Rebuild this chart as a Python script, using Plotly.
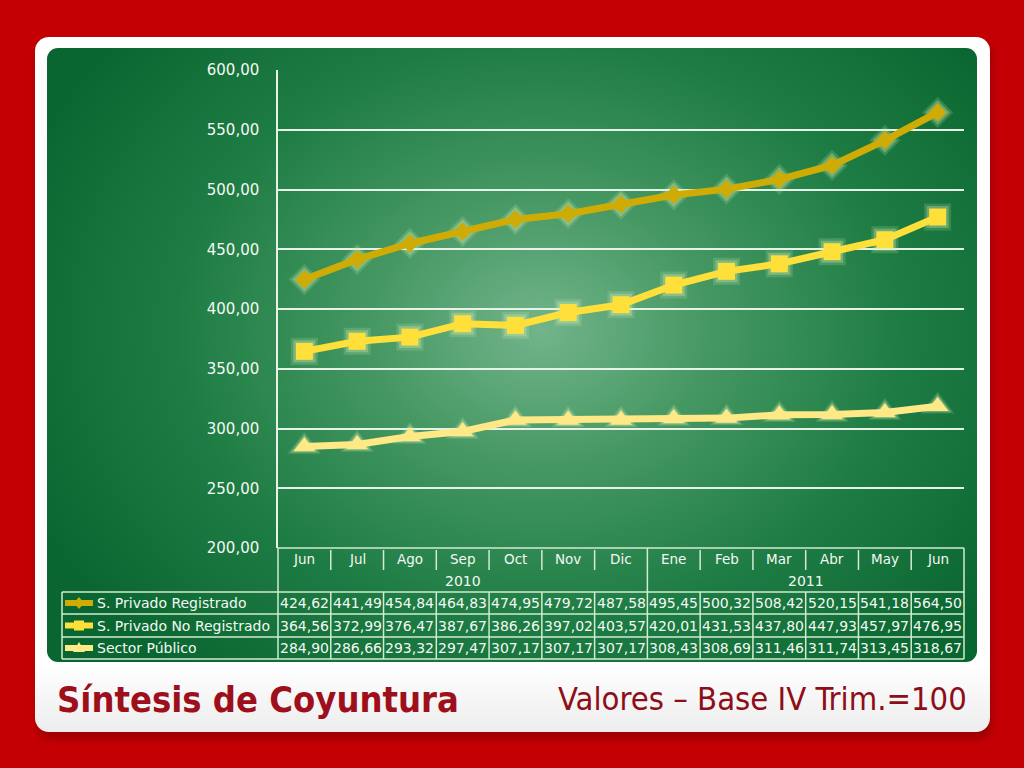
import base64
import plotly.graph_objects as go

# ---------------- data ----------------
months = ["Jun", "Jul", "Ago", "Sep", "Oct", "Nov", "Dic", "Ene", "Feb", "Mar", "Abr", "May", "Jun"]
years = ["2010", "2011"]
year_spans = [(0, 6), (7, 12)]
series_names = ["S. Privado Registrado", "S. Privado No Registrado", "Sector Público"]
privado_registrado = [424.62, 441.49, 454.84, 464.83, 474.95, 479.72, 487.58, 495.45, 500.32, 508.42, 520.15, 541.18, 564.50]
privado_no_registrado = [364.56, 372.99, 376.47, 387.67, 386.26, 397.02, 403.57, 420.01, 431.53, 437.80, 447.93, 457.97, 476.95]
sector_publico = [284.90, 286.66, 293.32, 297.47, 307.17, 307.17, 307.17, 308.43, 308.69, 311.46, 311.74, 313.45, 318.67]
series_values = [privado_registrado, privado_no_registrado, sector_publico]
title_text = "Síntesis de Coyuntura"
subtitle_text = "Valores – Base IV Trim.=100"

# ---------------- styles ----------------
W, H = 1024, 768
colors = ["#CFAC05", "#FFE03A", "#FFE886"]
symbols = ["diamond", "square", "triangle-up"]
msizes = [14, 17, 19]
FONT = "DejaVu Sans, Verdana, sans-serif"
TFONT = "DejaVu Sans Condensed, Liberation Sans Narrow, DejaVu Sans, sans-serif"
TXT = "#F4F8F4"
GRIDC = "#E6F2E6"
TABC = "#D2EBD2"


def px(x):
    return x / W


def py(y):
    return 1 - y / H


# background SVG: red page, white card, green radial panel
svg = f'''<svg xmlns="http://www.w3.org/2000/svg" width="{W}" height="{H}" viewBox="0 0 {W} {H}">
<defs>
<radialGradient id="g" gradientUnits="userSpaceOnUse" cx="540" cy="330" r="560" gradientTransform="translate(540 330) scale(1 0.8) translate(-540 -330)">
<stop offset="0" stop-color="#72B48B"/>
<stop offset="0.3" stop-color="#469863"/>
<stop offset="0.65" stop-color="#1D7C43"/>
<stop offset="1" stop-color="#0A6630"/>
</radialGradient>
<linearGradient id="c" x1="0" y1="0" x2="0" y2="1">
<stop offset="0" stop-color="#FFFFFF"/>
<stop offset="0.9" stop-color="#FFFFFF"/>
<stop offset="1" stop-color="#EDEDED"/>
</linearGradient>
<filter id="s" x="-10%" y="-10%" width="120%" height="120%"><feGaussianBlur stdDeviation="4"/></filter>
</defs>
<rect x="0" y="0" width="{W}" height="{H}" fill="#C50005"/>
<rect x="37" y="42" width="955" height="697" rx="14" fill="#7A0000" opacity="0.55" filter="url(#s)"/>
<rect x="35" y="37" width="955" height="695" rx="14" fill="url(#c)"/>
<rect x="47" y="48" width="930" height="614" rx="11" fill="url(#g)"/>
</svg>'''
svg_uri = "data:image/svg+xml;base64," + base64.b64encode(svg.encode("utf-8")).decode("ascii")

x_idx = list(range(len(months)))

fig = go.Figure()
# soft glow under markers
for vals, sym, ms in zip(series_values, symbols, msizes):
    fig.add_trace(go.Scatter(
        x=x_idx, y=vals, mode="markers", hoverinfo="skip", showlegend=False,
        marker=dict(symbol=sym, size=ms + 10, color="rgba(215,240,180,0.18)", line=dict(width=0)),
    ))
    fig.add_trace(go.Scatter(
        x=x_idx, y=vals, mode="markers", hoverinfo="skip", showlegend=False,
        marker=dict(symbol=sym, size=ms + 5, color="rgba(220,242,185,0.3)", line=dict(width=0)),
    ))
for name, vals, col, sym, ms in zip(series_names, series_values, colors, symbols, msizes):
    fig.add_trace(go.Scatter(
        x=x_idx, y=vals, mode="lines+markers", name=name, showlegend=False,
        line=dict(color=col, width=7),
        marker=dict(symbol=sym, size=ms, color=col, line=dict(width=0)),
    ))

PL, PR, PT, PB = 278, 964, 70, 548
ROW_MONTH = (548, 570)
ROW_YEAR = (570, 592)
ROWS = [(592, 614), (614, 637), (637, 659)]
TAB_L = 62

shapes = []
annotations = []


def hline(y, x0, x1):
    shapes.append(dict(type="line", xref="paper", yref="paper", x0=px(x0), x1=px(x1), y0=py(y), y1=py(y),
                       line=dict(color=TABC, width=1.5), layer="above"))


def vline_paper(x, y0, y1):
    shapes.append(dict(type="line", xref="paper", yref="paper", x0=px(x), x1=px(x), y0=py(y0), y1=py(y1),
                       line=dict(color=TABC, width=1.5), layer="above"))


def vline_data(xv, y0, y1):
    shapes.append(dict(type="line", xref="x", yref="paper", x0=xv, x1=xv, y0=py(y0), y1=py(y1),
                       line=dict(color=TABC, width=1.5), layer="above"))


# table grid
hline(PB, PL, PR)
for (a, b) in ROWS:
    hline(a, TAB_L, PR)
hline(ROWS[-1][1], TAB_L, PR)
vline_paper(PL, PB, ROWS[-1][1])
vline_paper(TAB_L, ROWS[0][0], ROWS[-1][1])
vline_paper(PR, PB, ROWS[-1][1])
for i in range(len(months) - 1):
    b = i + 0.5
    if any(b == s[1] + 0.5 for s in year_spans[:-1]):
        vline_data(b, PB, ROWS[-1][1])
    else:
        vline_data(b, ROW_MONTH[0] + 2, ROW_MONTH[1])
        vline_data(b, ROWS[0][0], ROWS[-1][1])

# month labels
for i, m in enumerate(months):
    annotations.append(dict(x=i, xref="x", y=py(sum(ROW_MONTH) / 2), yref="paper", text=m, showarrow=False,
                            font=dict(family=FONT, size=13.5, color=TXT), xanchor="center", yanchor="middle"))
# year labels
for yl, (s, e) in zip(years, year_spans):
    annotations.append(dict(x=(s + e) / 2, xref="x", y=py(sum(ROW_YEAR) / 2), yref="paper", text=yl, showarrow=False,
                            font=dict(family=FONT, size=14, color=TXT), xanchor="center", yanchor="middle"))
# values + row labels + legend icons
for (a, b), name, vals, col, sym in zip(ROWS, series_names, series_values, colors, symbols):
    yc = (a + b) / 2
    for i, v in enumerate(vals):
        annotations.append(dict(x=i, xref="x", y=py(yc), yref="paper", text=f"{v:.2f}".replace(".", ","),
                                showarrow=False, font=dict(family=FONT, size=14, color=TXT),
                                xanchor="center", yanchor="middle"))
    annotations.append(dict(x=px(95), xref="paper", y=py(yc), yref="paper", text=name, showarrow=False,
                            font=dict(family=FONT, size=14, color=TXT), xanchor="left", yanchor="middle"))
    shapes.append(dict(type="line", xref="paper", yref="paper", x0=px(65), x1=px(93), y0=py(yc), y1=py(yc),
                       line=dict(color=col, width=6), layer="above"))
    cx = 79
    if sym == "diamond":
        pts = [(cx, yc - 6), (cx + 5, yc), (cx, yc + 6), (cx - 5, yc)]
    elif sym == "square":
        pts = [(cx - 5, yc - 5), (cx + 5, yc - 5), (cx + 5, yc + 5), (cx - 5, yc + 5)]
    else:
        pts = [(cx, yc - 6), (cx + 6, yc + 4), (cx - 6, yc + 4)]
    path = "M " + " L ".join(f"{px(p[0])},{py(p[1])}" for p in pts) + " Z"
    shapes.append(dict(type="path", xref="paper", yref="paper", path=path, fillcolor=col,
                       line=dict(color=col, width=0), layer="above"))

# titles
annotations.append(dict(x=px(55), y=py(699), xref="paper", yref="paper", text=f"<b>{title_text}</b>",
                        showarrow=False, xanchor="left", yanchor="middle",
                        font=dict(family=TFONT, size=36, color="#9E0F1C")))
annotations.append(dict(x=px(969), y=py(699), xref="paper", yref="paper", text=subtitle_text,
                        showarrow=False, xanchor="right", yanchor="middle",
                        font=dict(family=TFONT, size=32.5, color="#8E0E18")))

fig.update_layout(
    width=W, height=H, autosize=False,
    margin=dict(l=0, r=0, t=0, b=0, pad=0, autoexpand=False),
    paper_bgcolor="#C50005", plot_bgcolor="rgba(0,0,0,0)",
    separators=",.",
    showlegend=False,
    images=[dict(source=svg_uri, xref="paper", yref="paper", x=0, y=1, sizex=1, sizey=1,
                 xanchor="left", yanchor="top", sizing="stretch", layer="below")],
    xaxis=dict(domain=[px(PL), px(PR)], range=[-0.5, len(months) - 0.5], showgrid=False, zeroline=False,
               showticklabels=False, showline=False, fixedrange=True, automargin=False),
    yaxis=dict(domain=[py(PB), py(PT)], range=[200, 600], dtick=50, tick0=200, tickformat=".2f",
               showgrid=True, gridcolor=GRIDC, gridwidth=1.5, zeroline=False,
               showline=True, linecolor=GRIDC, linewidth=1.5,
               ticks="", ticklabelstandoff=14, automargin=False,
               tickfont=dict(family=FONT, size=15, color=TXT), fixedrange=True),
    shapes=shapes,
    annotations=annotations,
)

fig.write_html("out.html", config={"displayModeBar": False},
               post_script="document.body.style.margin='0';document.body.style.overflow='hidden';")
